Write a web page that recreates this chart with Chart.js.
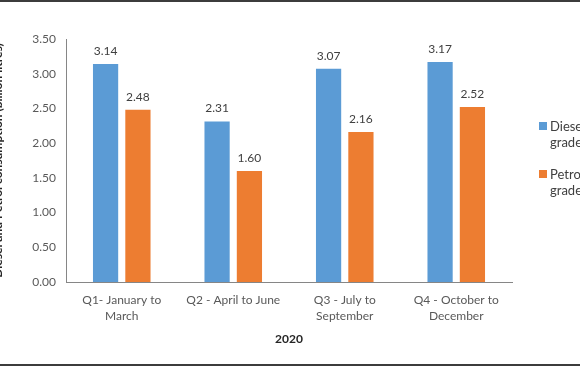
<!DOCTYPE html>
<html>
<head>
<meta charset="utf-8">
<script src="https://cdn.jsdelivr.net/npm/chart.js@4.4.1/dist/chart.umd.min.js"></script>
<style>
  html, body { margin: 0; padding: 0; background: #fff; overflow: hidden; }
  #wrap { position: relative; width: 580px; height: 366px; overflow: hidden; }
  #box { position: absolute; left: -9px; top: 0; width: 660px; height: 366px; }
  .rule { position: absolute; left: 0; width: 580px; height: 2px; background: #3c3c3c; }
</style>
</head>
<body>
<div id="wrap">
  <div id="box"><canvas id="grafico"></canvas></div>
  <div class="rule" style="top:0"></div>
  <div class="rule" style="top:364px"></div>
</div>
<script>
// dados
var trimestres = [
  ['Q1- January to', 'March'],
  ['Q2 - April to June'],
  ['Q3 - July to', 'September'],
  ['Q4 - October to', 'December']
];
var diesel = [3.14, 2.31, 3.07, 3.17];
var petrol = [2.48, 1.60, 2.16, 2.52];
var legendaDiesel = ['Diesel automotive', 'grade'];
var legendaPetrol = ['Petrol automotive', 'grade'];
var eixoY = [0, 3.5, 0.5];

var azul = '#5B9BD5';
var laranja = '#ED7D31';
var fonte = 'Lato, "Open Sans", sans-serif';

// valores em cima das barras
var rotulos = {
  id: 'rotulos',
  afterDatasetsDraw: function(chart) {
    var ctx = chart.ctx;
    ctx.save();
    ctx.font = '12px ' + fonte;
    ctx.fillStyle = '#404040';
    ctx.textAlign = 'center';
    ctx.textBaseline = 'middle';
    chart.data.datasets.forEach(function(ds, i) {
      chart.getDatasetMeta(i).data.forEach(function(bar, j) {
        ctx.fillText(ds.data[j].toFixed(2), bar.x, bar.y - 13);
      });
    });
    ctx.restore();
  }
};

// legenda em duas linhas, à direita
var legenda = {
  id: 'legenda',
  afterDraw: function(chart) {
    var ctx = chart.ctx;
    var x = chart.chartArea.right + 27;
    var itens = [[azul, legendaDiesel, 126], [laranja, legendaPetrol, 174]];
    ctx.save();
    ctx.font = '13px ' + fonte;
    ctx.textBaseline = 'middle';
    itens.forEach(function(it) {
      ctx.fillStyle = it[0];
      ctx.fillRect(x, it[2] - 4, 8, 8);
      ctx.fillStyle = '#404040';
      ctx.fillText(it[1][0], x + 11, it[2] + 1);
      ctx.fillText(it[1][1], x + 11, it[2] + 17);
    });
    ctx.restore();
  }
};

new Chart(document.getElementById('grafico'), {
  type: 'bar',
  data: {
    labels: trimestres,
    datasets: [
      { label: legendaDiesel.join(' '), data: diesel, backgroundColor: azul },
      { label: legendaPetrol.join(' '), data: petrol, backgroundColor: laranja }
    ]
  },
  options: {
    responsive: true,
    maintainAspectRatio: false,
    animation: false,
    layout: { padding: { left: 0, right: 139, top: 39, bottom: 20 } },
    datasets: { bar: { categoryPercentage: 0.58, barPercentage: 0.78 } },
    plugins: {
      legend: { display: false },
      tooltip: { enabled: false }
    },
    scales: {
      x: {
        grid: { display: false, drawTicks: false },
        border: { display: true, color: '#868686', width: 1 },
        ticks: { color: '#595959', padding: 10, maxRotation: 0, autoSkip: false,
                 font: { family: fonte, size: 12, lineHeight: 1.333 } },
        title: { display: true, text: '2020', color: '#262626', padding: 0,
                 font: { family: fonte, size: 12, weight: 'bold' } },
        afterFit: function(s) { s.height = 64; }
      },
      y: {
        min: eixoY[0], max: eixoY[1],
        grid: { display: false, drawTicks: false },
        border: { display: true, color: '#868686', width: 1 },
        ticks: { stepSize: eixoY[2], color: '#595959', padding: 10,
                 font: { family: fonte, size: 12 },
                 callback: function(v) { return v.toFixed(2); } },
        title: { display: true, text: 'Diesel and Petrol consumption (billion litres)',
                 color: '#262626', padding: 0,
                 font: { family: fonte, size: 12, weight: 'bold' } },
        afterFit: function(s) { s.width = 75; }
      }
    }
  },
  plugins: [rotulos, legenda]
});
</script>
</body>
</html>
